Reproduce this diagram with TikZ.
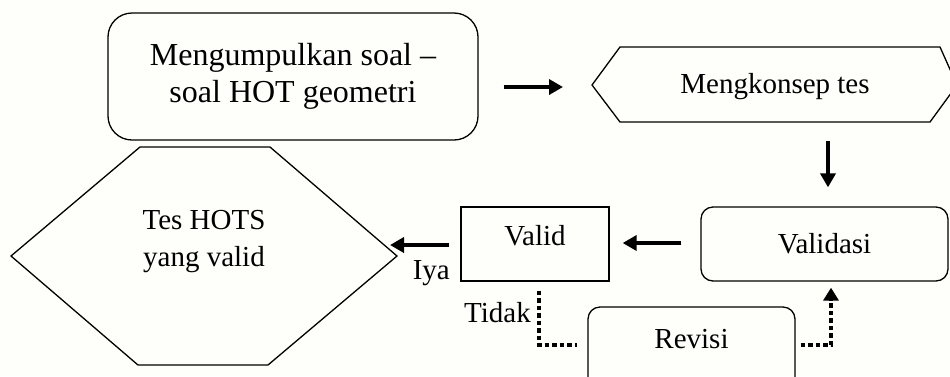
\documentclass[tikz,border=0pt]{standalone}
\usepackage{fontspec}
\setmainfont{Liberation Serif}
\usetikzlibrary{arrows.meta,calc}
\definecolor{paper}{RGB}{254,254,250}
\begin{document}
\begin{tikzpicture}[x=1pt,y=-1pt,
  outline/.style={draw=black,line width=1.3pt},
  txt/.style={font=\fontsize{29pt}{37pt}\selectfont,inner sep=0pt,align=center},
  rbox/.style={outline,rounded corners=12pt},
  sbox/.style={outline},
  arr/.style={line width=3.5pt,-{Triangle[length=14pt,width=15pt]}},
  dots/.style={line width=3.4pt,dash pattern=on 4.5pt off 3pt}
]
\useasboundingbox (0,0) rectangle (950,376);
\fill[paper] (0,0) rectangle (950,376);

% first step: collecting the questions
\node[rbox,rounded corners=24pt,minimum width=370pt,minimum height=127pt,
      font=\fontsize{32pt}{37pt}\selectfont,align=center,inner sep=0pt]
      (b1) at (293,76.5) {Mengumpulkan soal –\\soal HOT geometri};

% hexagon: drafting the test
\coordinate (mkL) at (592,85);
\draw[outline] (mkL) -- (620,47) -- (940,47) -- (957,85) -- (930,122) -- (620,122) -- cycle;
\node[txt,anchor=base] (mk) at (775,93) {Mengkonsep tes};

% validation
\node[rbox,txt,minimum width=247pt,minimum height=74pt] (vd) at (824.5,244) {Validasi};

% decision box
\node[sbox,minimum width=148pt,minimum height=74pt] (va) at (535,244) {};
\node[txt,anchor=base] (vat) at (535,245) {Valid};

% revision
\node[rbox,minimum width=207pt,minimum height=83pt] (rv) at (691.5,348.5) {};
\node[txt,anchor=base] (rvt) at (691.5,348) {Revisi};

% hexagon: final valid test
\coordinate (tesR) at (397,256);
\draw[outline] (11,256) -- (140,147) -- (270,147) -- (tesR) -- (268,365) -- (138,365) -- cycle;
\node[txt] (tes) at (204,242) {Tes HOTS\\yang valid};

% flow arrows
\draw[arr] ($(b1.east)+(25,10.5)$) -- ($(mkL)+(-29,2)$);
\draw[arr] ($(vd.north)+(3.5,-65)$) -- ($(vd.north)+(3.5,-19)$);
\draw[arr] ($(vd.west)+(-19,-1)$) -- ($(va.east)+(13,-1)$);
\draw[arr] ($(va.west)+(-11,1)$) -- ($(tesR)+(-7,-11)$);

% revision loop
\draw[dots] ($(va.south)+(4,9)$) |- ($(rv.west)+(-10,-3.5)$);
\draw[dots,-{Triangle[length=13pt,width=15pt]}] ($(rv.east)+(5,-3.5)$) -| ($(vd.south)+(6.5,6)$);

% branch labels
\node[txt,anchor=base east] (iya) at (450,279) {Iya};
\node[txt,anchor=base east] (tidak) at (531,322) {Tidak};
\end{tikzpicture}
\end{document}
